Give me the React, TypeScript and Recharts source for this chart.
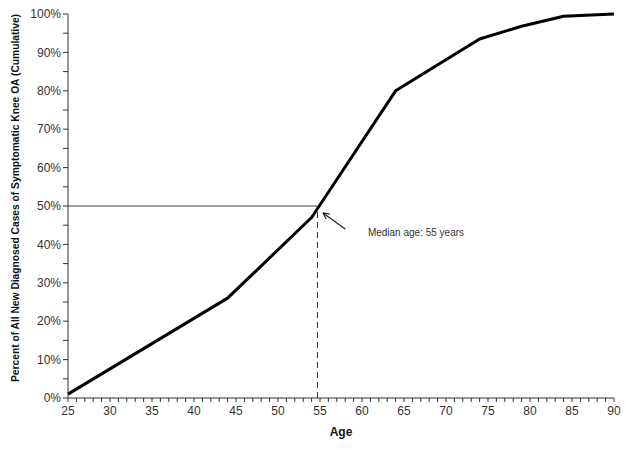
import React from "react"
import { LineChart, Line, XAxis, YAxis, ReferenceLine, ReferenceDot } from "recharts"

// cumulative share of new diagnosed cases by age
const ages = [25, 44, 54, 64, 74, 79, 84, 90]
const cumulative = [1, 26, 47, 80, 93.5, 96.8, 99.4, 100]

const xTicks = [
  25, 26, 27, 28, 29, 30, 31, 32, 33, 34, 35, 36, 37, 38, 39, 40, 41, 42, 43, 44, 45, 46, 47, 48, 49, 50,
  51, 52, 53, 54, 55, 56, 57, 58, 59, 60, 61, 62, 63, 64, 65, 66, 67, 68, 69, 70, 71, 72, 73, 74, 75, 76,
  77, 78, 79, 80, 81, 82, 83, 84, 85, 86, 87, 88, 89, 90,
]
const yTicks = [0, 5, 10, 15, 20, 25, 30, 35, 40, 45, 50, 55, 60, 65, 70, 75, 80, 85, 90, 95, 100]

const medianAge = 54.7
const medianPct = 50
const arrowTail = { x: 58, y: 44 }
const arrowTip = { x: 55.35, y: 48.2 }
const notePos = { x: 60.7, y: 43 }
const noteText = "Median age: 55 years"

const data = ages.map((age, i) => ({ age, pct: cumulative[i] }))

const FONT = "'Liberation Sans', Arial, sans-serif"

const Arrow = (p: any) => {
  const { x1, y1, x2, y2 } = p
  const ang = Math.atan2(y2 - y1, x2 - x1)
  const len = 7
  const spread = 0.45
  const a1 = ang + Math.PI - spread
  const a2 = ang + Math.PI + spread
  return (
    <g stroke="#222" strokeWidth={1.2} fill="none">
      <line x1={x1} y1={y1} x2={x2} y2={y2} />
      <line x1={x2} y1={y2} x2={x2 + len * Math.cos(a1)} y2={y2 + len * Math.sin(a1)} />
      <line x1={x2} y1={y2} x2={x2 + len * Math.cos(a2)} y2={y2 + len * Math.sin(a2)} />
    </g>
  )
}

const Note = (p: any) => (
  <text x={p.cx} y={p.cy} dominantBaseline="middle" fontSize={10} fontFamily={FONT} fill="#333">
    {noteText}
  </text>
)

export default function App() {
  return (
    <div style={{ position: "absolute", left: 0, top: 0, background: "#fff" }}>
      <LineChart width={633} height={449} data={data} margin={{ top: 14, right: 19, bottom: 0, left: 0 }}>
        <XAxis
          dataKey="age"
          type="number"
          domain={[25, 90]}
          ticks={xTicks}
          interval={0}
          height={51}
          tickSize={4}
          tickMargin={4}
          stroke="#333"
          tick={{ fill: "#333", fontSize: 12, fontFamily: FONT }}
          tickFormatter={(v: number) => (v % 5 === 0 ? String(v) : "")}
          label={{
            content: ({ viewBox }: any) => (
              <text
                x={viewBox.x + viewBox.width / 2}
                y={viewBox.y + 35}
                textAnchor="middle"
                dominantBaseline="middle"
                fontSize={12}
                fontWeight="bold"
                fontFamily={FONT}
                fill="#111"
              >
                Age
              </text>
            ),
          }}
        />
        <YAxis
          type="number"
          domain={[0, 100]}
          ticks={yTicks}
          interval={0}
          width={68}
          tickSize={5}
          tickMargin={2}
          stroke="#333"
          tick={{ fill: "#333", fontSize: 12, fontFamily: FONT }}
          tickFormatter={(v: number) => (v % 10 === 0 ? `${v}%` : "")}
          label={{
            content: ({ viewBox }: any) => {
              const cy = viewBox.y + viewBox.height / 2 - 8
              return (
                <text
                  x={16}
                  y={cy}
                  transform={`rotate(-90 16 ${cy})`}
                  textAnchor="middle"
                  dominantBaseline="middle"
                  fontSize={10}
                  fontWeight="bold"
                  fontFamily={FONT}
                  fill="#111"
                  textLength={368}
                  lengthAdjust="spacingAndGlyphs"
                >
                  Percent of All New Diagnosed Cases of Symptomatic Knee OA (Cumulative)
                </text>
              )
            },
          }}
        />
        <ReferenceLine
          segment={[
            { x: 25, y: medianPct },
            { x: medianAge, y: medianPct },
          ]}
          stroke="#808080"
          strokeWidth={1.5}
        />
        <ReferenceLine
          segment={[
            { x: medianAge, y: 0 },
            { x: medianAge, y: medianPct },
          ]}
          stroke="#333"
          strokeWidth={1}
          strokeDasharray="6 4"
        />
        <Line
          type="linear"
          dataKey="pct"
          stroke="#000"
          strokeWidth={3}
          dot={false}
          activeDot={false}
          strokeLinejoin="round"
          isAnimationActive={false}
        />
        <ReferenceLine segment={[arrowTail, arrowTip]} shape={Arrow} />
        <ReferenceDot x={notePos.x} y={notePos.y} r={0} shape={Note} />
      </LineChart>
    </div>
  )
}
